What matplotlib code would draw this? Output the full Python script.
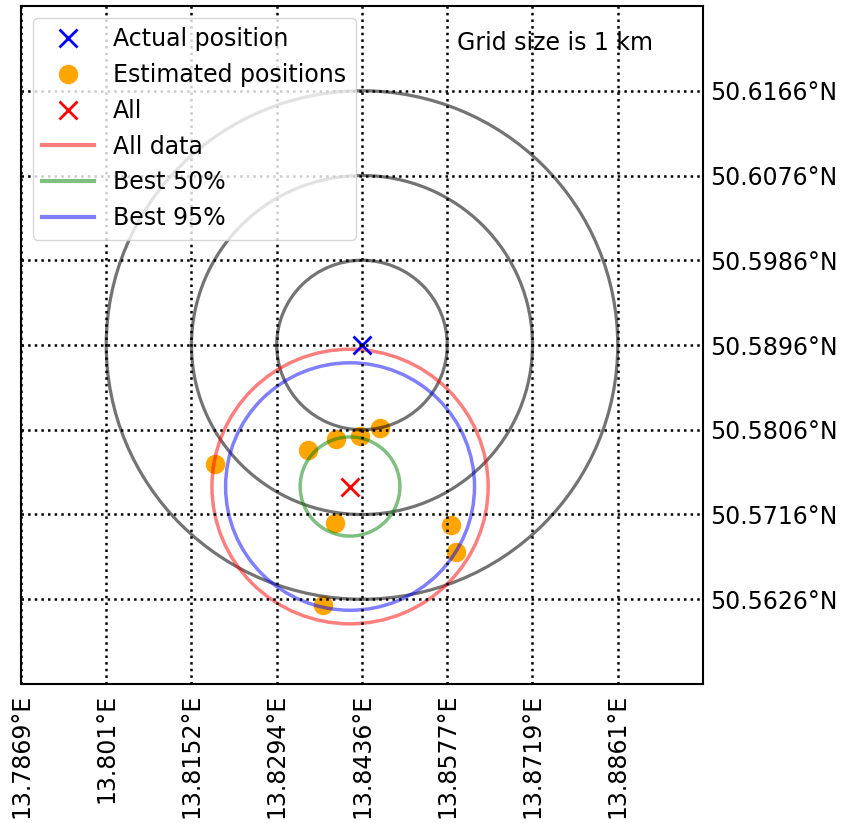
import numpy as np
import matplotlib
matplotlib.use("Agg")
import matplotlib.pyplot as plt
from matplotlib.patches import Circle
from matplotlib.lines import Line2D

# ── Positions in km relative to the actual transmitter position ──
actual_xy = (0.0, 0.0)
est_east = [-1.72, -0.63, -0.31, -0.02, 0.21, -0.32, 1.05, 1.10, -0.46]
est_north = [-1.41, -1.24, -1.11, -1.07, -0.98, -2.10, -2.12, -2.44, -3.07]
mean_xy = (-0.14, -1.67)

ring_radii = [1.0, 2.0, 3.0]
r_all = 1.62
r_best50 = 0.585
r_best95 = 1.46

# grid positions (km) and their geographic labels
x_grid = [-4, -3, -2, -1, 0, 1, 2, 3]
x_labels = ["13.7869°E", "13.801°E", "13.8152°E", "13.8294°E",
            "13.8436°E", "13.8577°E", "13.8719°E", "13.8861°E"]
y_grid = [3, 2, 1, 0, -1, -2, -3]
y_labels = ["50.6166°N", "50.6076°N", "50.5986°N", "50.5896°N",
            "50.5806°N", "50.5716°N", "50.5626°N"]

plt.rcParams.update({"font.family": "DejaVu Sans", "font.size": 17})

fig = plt.figure(figsize=(8.43, 8.23), dpi=100)
ax = fig.add_axes([0.0249, 0.1689, 0.8090, 0.8238])
ax.set_xlim(-4, 4)
ax.set_ylim(-4, 4)

# estimated positions (under everything else)
ax.plot(est_east, est_north, "o", color="orange", ms=13, zorder=2,
        linestyle="none")

# distance rings around the actual position
for r in ring_radii:
    ax.add_patch(Circle(actual_xy, r, fill=False, color="black", alpha=0.55,
                        lw=2.3, zorder=3))

# error circles around the mean estimate
ax.add_patch(Circle(mean_xy, r_all, fill=False, color="red", alpha=0.5,
                    lw=2.5, zorder=3))
ax.add_patch(Circle(mean_xy, r_best50, fill=False, color="green", alpha=0.5,
                    lw=2.5, zorder=3))
ax.add_patch(Circle(mean_xy, r_best95, fill=False, color="blue", alpha=0.5,
                    lw=2.5, zorder=3))

ax.plot(*actual_xy, "x", color="blue", ms=13, mew=2, zorder=4)
ax.plot(*mean_xy, "x", color="red", ms=13, mew=2, zorder=4)

# dotted parallels / meridians
for gx in x_grid:
    ax.axvline(gx, color="black", ls=":", lw=1.8, zorder=5)
for gy in y_grid:
    ax.axhline(gy, color="black", ls=":", lw=1.8, zorder=5)

ax.set_xticks(x_grid)
ax.set_xticklabels(x_labels, rotation=90)
ax.set_yticks(y_grid)
ax.set_yticklabels(y_labels)
ax.yaxis.tick_right()
ax.tick_params(axis="y", length=0, pad=5)
ax.tick_params(axis="x", length=0, pad=7)
for sp in ax.spines.values():
    sp.set_linewidth(1.5)
    sp.set_zorder(6)

ax.text(0.64, 0.945, "Grid size is 1 km", transform=ax.transAxes,
        fontsize=17, va="center", ha="left", zorder=7)

handles = [
    Line2D([], [], marker="x", color="blue", ms=13, mew=2, ls="none"),
    Line2D([], [], marker="o", color="orange", ms=13, ls="none"),
    Line2D([], [], marker="x", color="red", ms=13, mew=2, ls="none"),
    Line2D([], [], color="red", alpha=0.5, lw=3),
    Line2D([], [], color="green", alpha=0.5, lw=3),
    Line2D([], [], color="blue", alpha=0.5, lw=3),
]
labels = ["Actual position", "Estimated positions", "All",
          "All data", "Best 50%", "Best 95%"]
leg = ax.legend(handles, labels, loc="upper left", fontsize=17,
                handlelength=2.2)
leg.set_zorder(10)

fig.savefig("out.png", dpi=100)
